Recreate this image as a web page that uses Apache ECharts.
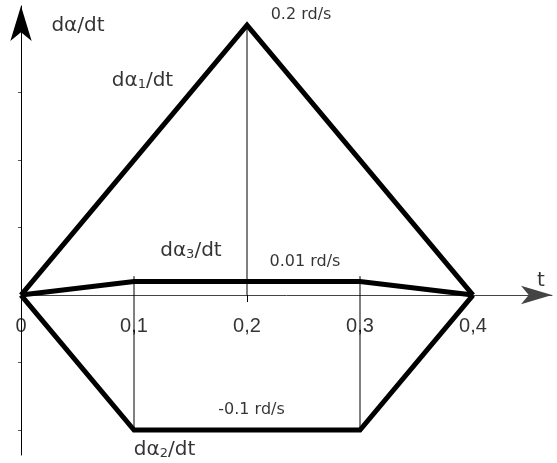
<!DOCTYPE html>
<html>
<head>
<meta charset="utf-8">
<script src="https://cdn.jsdelivr.net/npm/echarts@6/dist/echarts.min.js"></script>
<style>html,body{margin:0;padding:0;background:#fff}#c{width:557px;height:463px}</style>
</head>
<body>
<div id="c"></div>
<script>
// ---- data ----
const tTicks = [0, 0.1, 0.2, 0.3, 0.4];
const tTickLabels = ['0', '0,1', '0,2', '0,3', '0,4'];
const tLabelV = -0.0235;           // vertical place of the t tick labels (data units)
const yTicks = [-0.1, -0.05, 0.05, 0.1, 0.15];

const alpha1T = [0, 0.2, 0.4];
const alpha1V = [0, 0.2, 0];
const alpha2T = [0, 0.1, 0.3, 0.4];
const alpha2V = [0, -0.1, -0.1, 0];
const alpha3T = [0, 0.1, 0.3, 0.4];
const alpha3V = [0, 0.01, 0.01, 0];

const guideT = [0.1, 0.2, 0.3];
const guideTop = [0.014, 0.2, 0.014];
const guideBottom = [-0.1, 0, -0.1];

const noteText = ['{n|d\u03b1/dt}', '{n|d\u03b1}{s|1}{n|/dt}', '{n|d\u03b1}{s|3}{n|/dt}', '{n|d\u03b1}{s|2}{n|/dt}',
                  '{m|0.2 rd/s}', '{m|0.01 rd/s}', '{m|-0.1 rd/s}', '{n|t}'];
const noteT = [0.0504, 0.1075, 0.1504, 0.127, 0.2478, 0.2513, 0.204, 0.46];
const noteV = [0.199, 0.1585, 0.0326, -0.1148, 0.2074, 0.0244, -0.0852, 0.0104];

// ---- chart ----
const zip = (a, b) => a.map((v, i) => [v, b[i]]);
const thick = { color: '#000', width: 5, join: 'miter', cap: 'butt' };
const thickSeries = (d) => ({
  type: 'line', data: d, showSymbol: false, symbol: 'none', lineStyle: thick,
  silent: true, z: 5, clip: false, animation: false
});
const guides = [];
guideT.forEach((t, i) => {
  guides.push({
    type: 'line', data: [[t, guideTop[i]], [t, guideBottom[i]]], symbol: 'none',
    lineStyle: { color: '#000', width: 1 }, silent: true, z: 3, clip: false, animation: false
  });
});

const rich = {
  n: { fontFamily: 'DejaVu Sans', fontSize: 20, color: '#000', padding: [0, 0, 1, 0] },
  s: { fontFamily: 'DejaVu Sans', fontSize: 13, color: '#000', verticalAlign: 'bottom' },
  m: { fontFamily: 'DejaVu Sans', fontSize: 16, color: '#000' },
  k: { fontFamily: 'Liberation Sans', fontSize: 20, color: '#000' }
};

const chart = echarts.init(document.getElementById('c'), null, { renderer: 'canvas' });
chart.setOption({
  animation: false,
  backgroundColor: '#fff',
  grid: { left: 21, right: 5, top: 6, bottom: 8, containLabel: false, outerBoundsMode: 'none' },
  xAxis: {
    type: 'value', min: 0, max: 0.4699,
    axisLine: { onZero: true, lineStyle: { color: '#444', width: 1 },
      symbol: ['none', 'arrow'], symbolSize: [14, 31] },
    axisTick: { show: true, customValues: [0.2], length: 7, inside: false, lineStyle: { color: '#000' } },
    axisLabel: { show: false },
    splitLine: { show: false }
  },
  yAxis: {
    type: 'value', min: -0.1185, max: 0.2141,
    axisLine: { show: true, onZero: false, lineStyle: { color: '#000', width: 1 },
      symbol: ['none', 'arrow'], symbolSize: [16, 35] },
    axisTick: { show: true, customValues: yTicks, length: 3, lineStyle: { color: '#555' } },
    axisLabel: { show: false },
    splitLine: { show: false }
  },
  series: [
    ...guides,
    thickSeries(zip(alpha1T, alpha1V)),
    thickSeries(zip(alpha2T, alpha2V)),
    thickSeries(zip(alpha3T, alpha3V)),
    {
      type: 'scatter', symbolSize: 0, silent: true, clip: false, z: 10, animation: false,
      data: noteT.map((t, i) => ({ value: [t, noteV[i]], label: { formatter: noteText[i] } })),
      label: { show: true, position: 'inside', align: 'center', verticalAlign: 'middle',
        fontFamily: 'DejaVu Sans', fontSize: 20, color: '#000', rich: rich }
    },
    {
      type: 'scatter', symbolSize: 0, silent: true, clip: false, z: 10, animation: false,
      data: tTicks.map((t, i) => ({ value: [t, tLabelV], label: { formatter: '{k|' + tTickLabels[i] + '}' } })),
      label: { show: true, position: 'inside', align: 'center', verticalAlign: 'middle',
        fontFamily: 'Liberation Sans', fontSize: 20, color: '#000', rich: rich }
    }
  ]
});
</script>
</body>
</html>
